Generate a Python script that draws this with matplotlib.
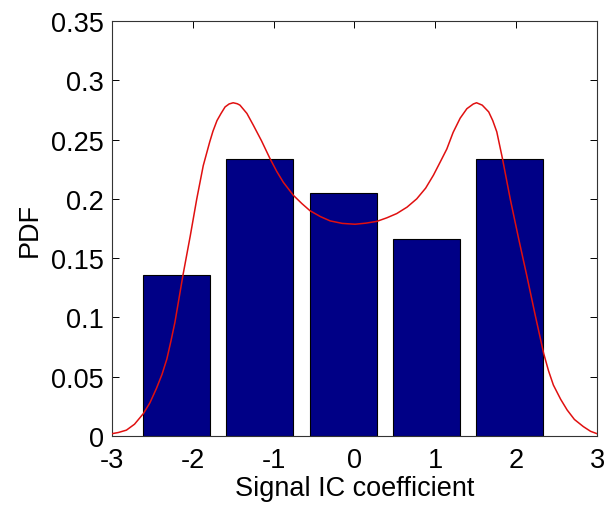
import numpy as np
import matplotlib.pyplot as plt

plt.rcParams['font.family'] = ['Liberation Sans', 'DejaVu Sans']

# histogram bins (centres) and normalised heights
bin_centers = [-2.20, -1.17, -0.14, 0.89, 1.92]
pdf_values = [0.136, 0.234, 0.205, 0.166, 0.234]
bar_width = 0.83

# fitted density curve
curve_x = [-3.0, -2.92, -2.82, -2.72, -2.61, -2.53, -2.45, -2.38, -2.32, -2.27,
           -2.22, -2.12, -2.03, -1.95, -1.87, -1.79, -1.75, -1.70, -1.65, -1.60,
           -1.55, -1.50, -1.45, -1.416, -1.33, -1.25, -1.15, -1.045, -0.96, -0.88,
           -0.756, -0.65, -0.55, -0.42, -0.30, -0.15, 0.007, 0.14, 0.276, 0.40,
           0.523, 0.65, 0.77, 0.88, 0.977, 1.06, 1.142, 1.22, 1.307, 1.39,
           1.47, 1.51, 1.58, 1.66, 1.71, 1.76, 1.83, 1.926, 2.03, 2.13,
           2.235, 2.34, 2.40, 2.46, 2.55, 2.63, 2.72, 2.83, 2.92, 3.0]
curve_y = [0.002, 0.003, 0.005, 0.010, 0.019, 0.028, 0.040, 0.052, 0.065, 0.080,
           0.096, 0.136, 0.169, 0.200, 0.228, 0.248, 0.257, 0.266, 0.272, 0.2775,
           0.2800, 0.281, 0.2802, 0.279, 0.272, 0.262, 0.249, 0.234, 0.223, 0.214,
           0.203, 0.196, 0.190, 0.185, 0.1814, 0.1793, 0.1786, 0.1795, 0.181, 0.184,
           0.1876, 0.193, 0.200, 0.209, 0.220, 0.231, 0.242, 0.256, 0.268, 0.276,
           0.280, 0.281, 0.279, 0.2733, 0.266, 0.2565, 0.234, 0.200, 0.1665, 0.1356,
           0.102, 0.0696, 0.055, 0.043, 0.031, 0.022, 0.014, 0.008, 0.004, 0.002]

fig = plt.figure(figsize=(6.08, 5.10), dpi=100)
ax = fig.add_axes([0.184, 0.143, 0.798, 0.814])

ax.bar(bin_centers, pdf_values, width=bar_width, color='#000086',
       edgecolor='black', linewidth=0.8, zorder=2)
ax.plot(curve_x, curve_y, color='#e01010', linewidth=1.1, zorder=3,
        solid_joinstyle='round')

ax.set_xlim(-3, 3)
ax.set_ylim(0, 0.35)
ax.set_xticks([-3, -2, -1, 0, 1, 2, 3])
ax.set_xticklabels(['-3', '-2', '-1', '0', '1', '2', '3'])
ax.set_yticks([0, 0.05, 0.1, 0.15, 0.2, 0.25, 0.3, 0.35])
ax.set_yticklabels(['0', '0.05', '0.1', '0.15', '0.2', '0.25', '0.3', '0.35'])
ax.tick_params(direction='in', top=True, right=True, labelsize=19.5, length=5,
               width=0.7)
ax.tick_params(axis='x', pad=8)
ax.tick_params(axis='y', pad=6)
for s in ax.spines.values():
    s.set_linewidth(0.8)
    s.set_color('#333333')

ax.set_xlabel('Signal IC coefficient', fontsize=19.5, labelpad=1)
ax.set_ylabel('PDF', fontsize=19.5, labelpad=6)

plt.savefig('out.png', dpi=100)
